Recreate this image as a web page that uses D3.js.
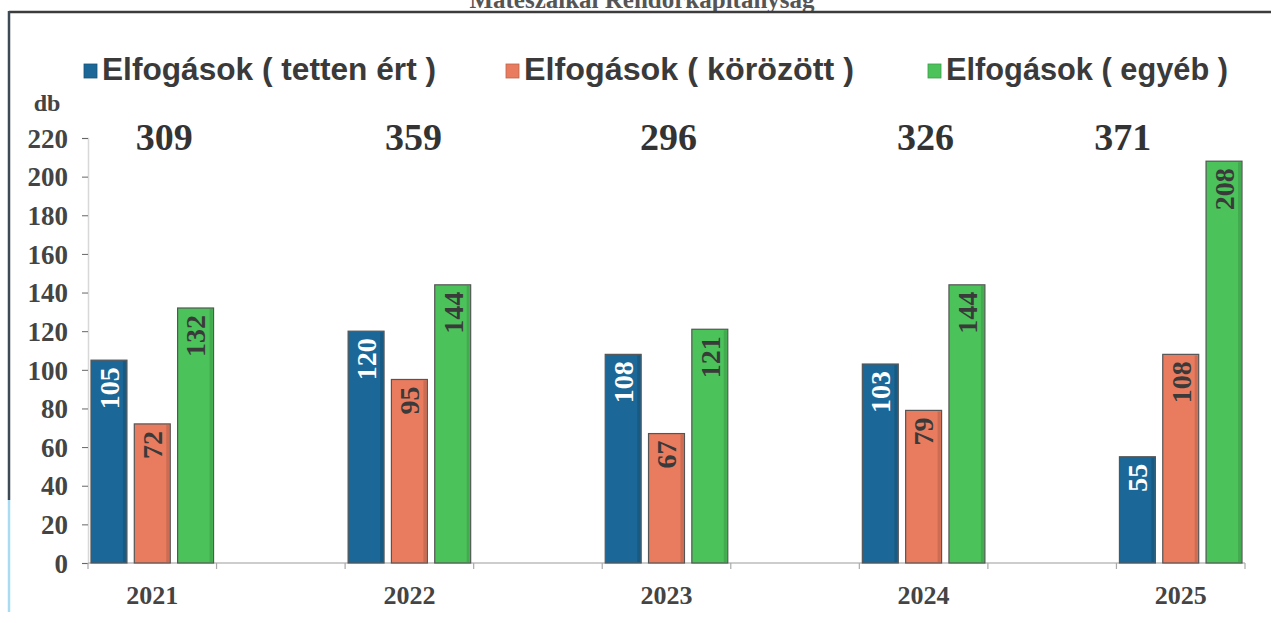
<!DOCTYPE html>
<html><head><meta charset="utf-8">
<script src="https://cdn.jsdelivr.net/npm/d3@7"></script>
<style>
html,body{margin:0;padding:0;background:#fff;}
svg{display:block;}
</style></head>
<body>
<svg id="chart" width="1271" height="623"></svg>
<script>
const years = ["2021","2022","2023","2024","2025"];
const seriesNames = ["Elfogások ( tetten ért )","Elfogások ( körözött )","Elfogások ( egyéb )"];
const tettenErt = [105,120,108,103,55];
const korozott = [72,95,67,79,108];
const egyeb = [132,144,121,144,208];
const totals = [309,359,296,326,371];
const yTicks = [0,20,40,60,80,100,120,140,160,180,200,220];
const titleText = "Mátészalkai Rendőrkapitányság";
const yUnit = "db";

// layout / style constants
const colors = ["#1b6898","#e97c5e","#4cc25a"];
const labelColors = ["#ffffff","#3a3a3a","#3a3a3a"];
const totalOffsets = [12,4,2,2,-58];
const legendX = [84,506,928];
const legendTextLen = [334,330,282];

const seriesVals = [tettenErt, korozott, egyeb];
const svg = d3.select("#chart");
const serif = "'Liberation Serif','Times New Roman',serif";
const sans = "'Liberation Sans',Arial,sans-serif";

const x0 = d3.scaleBand().domain(years).range([88,1245]).paddingInner(0.5).paddingOuter(0);
const x1 = d3.scaleBand().domain([0,1,2]).range([3, x0.bandwidth()-3]).paddingInner(0.17).paddingOuter(0);
const y = d3.scaleLinear().domain([0,220]).range([563,138]);

// frame
svg.append("text").attr("x",642).attr("y",8).attr("text-anchor","middle")
  .attr("font-family",serif).attr("font-weight","bold").attr("font-size",25).attr("fill","#555")
  .text(titleText);
svg.append("line").attr("x1",9).attr("x2",1271).attr("y1",12).attr("y2",12).attr("stroke","#3c3c3c").attr("stroke-width",2.5);
svg.append("line").attr("x1",9).attr("x2",9).attr("y1",11).attr("y2",500).attr("stroke","#3c4a55").attr("stroke-width",2.5);
svg.append("line").attr("x1",9).attr("x2",9).attr("y1",500).attr("y2",612).attr("stroke","#a9dcf2").attr("stroke-width",2.5);

// legend
seriesNames.forEach((n,i)=>{
  const g = svg.append("g").attr("transform",`translate(${legendX[i]},0)`);
  g.append("rect").attr("x",0).attr("y",64).attr("width",13).attr("height",14).attr("fill",colors[i])
    .attr("stroke",d3.color(colors[i]).darker(0.6)).attr("stroke-width",0.8);
  g.append("text").attr("x",18).attr("y",80).attr("font-family",sans).attr("font-weight","bold")
    .attr("font-size",31).attr("fill","#3a3a3a")
    .attr("textLength",legendTextLen[i]).attr("lengthAdjust","spacingAndGlyphs").text(n);
});

// y axis
const yAxis = d3.axisLeft(y).tickValues(yTicks).tickSize(6).tickPadding(14);
const ya = svg.append("g").attr("transform","translate(88,0)").call(yAxis);
ya.select(".domain").attr("stroke","#d8d8d8").attr("stroke-width",1.5);
ya.selectAll(".tick line").attr("stroke","#666");
ya.selectAll(".tick text").attr("font-family",serif).attr("font-weight","bold")
  .attr("font-size",27).attr("fill","#444").attr("dy","0.34em");
svg.append("text").attr("x",47).attr("y",111).attr("text-anchor","middle")
  .attr("font-family",serif).attr("font-weight","bold").attr("font-size",24).attr("fill","#444").text(yUnit);

// x axis
svg.append("line").attr("x1",88).attr("x2",1245).attr("y1",y(0)).attr("y2",y(0)).attr("stroke","#bdbdbd").attr("stroke-width",1.5);
const allEdges = [];
for(let i=0;i<years.length;i++){ allEdges.push(x0(years[i])); allEdges.push(x0(years[i])+x0.bandwidth()); }
svg.selectAll(".xtick").data(allEdges).enter().append("line")
  .attr("x1",d=>d).attr("x2",d=>d).attr("y1",y(0)).attr("y2",y(0)+6).attr("stroke","#aaa").attr("stroke-width",1.2);
svg.selectAll(".xlab").data(years).enter().append("text")
  .attr("x",d=>x0(d)+x0.bandwidth()/2).attr("y",604).attr("text-anchor","middle")
  .attr("font-family",serif).attr("font-weight","bold").attr("font-size",26).attr("fill","#444").text(d=>d);

// bars
const groups = svg.selectAll(".grp").data(years).enter().append("g")
  .attr("transform",d=>`translate(${x0(d)},0)`);
groups.each(function(yr,yi){
  const g = d3.select(this);
  seriesVals.forEach((vals,si)=>{
    const v = vals[yi];
    const bx = x1(si), bw = x1.bandwidth();
    g.append("rect").attr("x",bx).attr("y",y(v)).attr("width",bw).attr("height",y(0)-y(v))
      .attr("fill",colors[si]).attr("stroke","#555").attr("stroke-width",1.2);
    g.append("rect").attr("x",bx+bw-4).attr("y",y(v)+1).attr("width",3).attr("height",y(0)-y(v)-2)
      .attr("fill","#000").attr("opacity",0.12);
    g.append("text").attr("transform",`translate(${bx+bw/2},${y(v)+7}) rotate(-90)`)
      .attr("text-anchor","end").attr("dy","0.35em")
      .attr("font-family",serif).attr("font-weight","bold").attr("font-size",28)
      .attr("fill",labelColors[si]).text(v);
  });
});

// totals
svg.selectAll(".tot").data(totals).enter().append("text")
  .attr("x",(d,i)=>x0(years[i])+x0.bandwidth()/2+totalOffsets[i]).attr("y",150)
  .attr("text-anchor","middle").attr("font-family",serif).attr("font-weight","bold")
  .attr("font-size",38).attr("fill","#333").text(d=>d);
</script>
</body></html>
